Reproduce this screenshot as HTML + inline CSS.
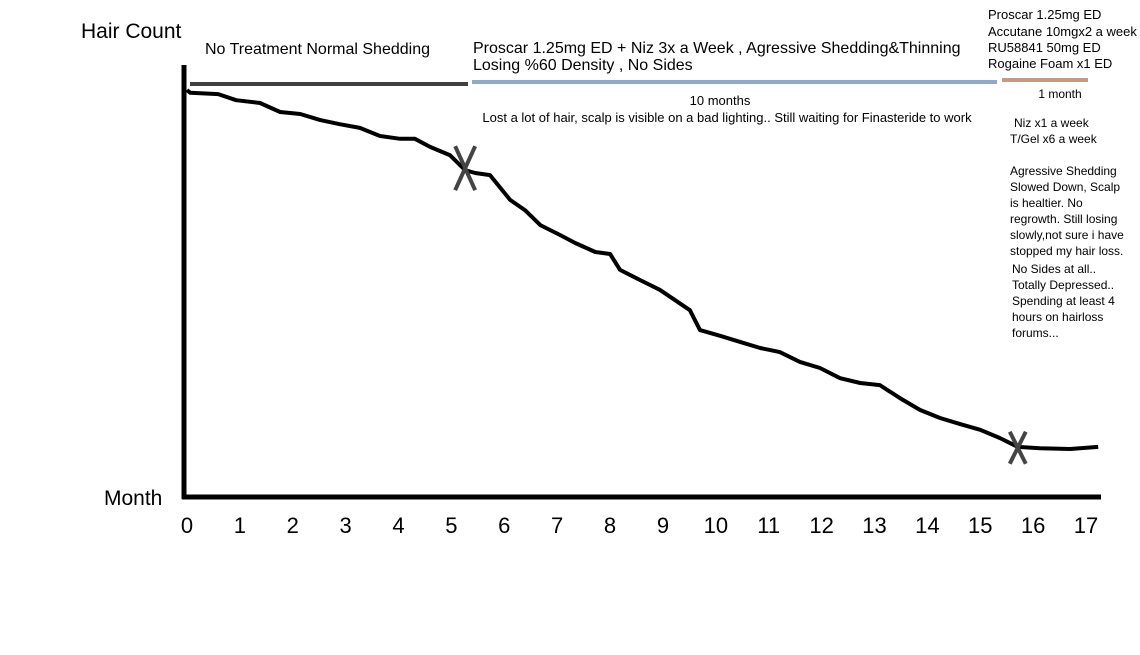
<!DOCTYPE html>
<html><head><meta charset="utf-8"><style>
body{margin:0;background:#fff;width:1140px;height:650px;overflow:hidden;font-family:"Liberation Sans",sans-serif}
</style></head><body>
<svg width="1140" height="650" font-family="Liberation Sans, sans-serif">
<g id="axes"></g>
<g id="marks"></g>
<g id="notes" fill="#000">
<text x="81" y="38" font-size="21">Hair Count</text>
<text x="104" y="505" font-size="21">Month</text>
<text x="205" y="54" font-size="16">No Treatment Normal Shedding</text>
<text x="473" y="53" font-size="16">Proscar 1.25mg ED + Niz 3x a Week , Agressive Shedding&amp;Thinning</text>
<text x="473" y="70" font-size="16">Losing %60 Density , No Sides</text>
<text x="720" y="105" font-size="13" text-anchor="middle">10 months</text>
<text x="727" y="122" font-size="13" text-anchor="middle">Lost a lot of hair, scalp is visible on a bad lighting.. Still waiting for Finasteride to work</text>
<g font-size="13">
<text x="988" y="19">Proscar 1.25mg ED</text>
<text x="988" y="36">Accutane 10mgx2 a week</text>
<text x="988" y="52">RU58841 50mg ED</text>
<text x="988" y="68">Rogaine Foam x1 ED</text>
</g>
<text x="1060" y="98" font-size="12" text-anchor="middle">1 month</text>
<g font-size="12">
<text x="1014" y="127">Niz x1 a week</text>
<text x="1010" y="143">T/Gel x6 a week</text>
<text x="1010" y="175">Agressive Shedding</text>
<text x="1010" y="191">Slowed Down, Scalp</text>
<text x="1010" y="207">is healtier. No</text>
<text x="1010" y="223">regrowth. Still losing</text>
<text x="1010" y="239">slowly,not sure i have</text>
<text x="1010" y="255">stopped my hair loss.</text>
<text x="1012" y="273">No Sides at all..</text>
<text x="1012" y="289">Totally Depressed..</text>
<text x="1012" y="305">Spending at least 4</text>
<text x="1012" y="321">hours on hairloss</text>
<text x="1012" y="337">forums...</text>
</g>
<line x1="190" y1="84" x2="468" y2="84" stroke="#404040" stroke-width="4"/>
<line x1="472" y1="82" x2="997" y2="82" stroke="#8eaacb" stroke-width="4"/>
<line x1="1002" y1="80" x2="1088" y2="80" stroke="#c49a80" stroke-width="4"/>
</g>
</svg>
<script>
const months=[0,0.06,0.59,0.93,1.38,1.76,2.14,2.52,2.89,3.27,3.65,4.03,4.31,4.6,4.97,5.26,5.45,5.73,6.11,6.39,6.68,7.05,7.34,7.72,8.0,8.19,8.57,8.94,9.51,9.7,10.08,10.46,10.84,11.21,11.59,11.97,12.35,12.73,13.1,13.48,13.86,14.24,14.62,15.0,15.37,15.71,16.13,16.7,17.23];
const hair=[100,99.3,99.0,97.5,96.8,94.6,94.1,92.6,91.6,90.7,88.7,88.0,88.0,86.0,84.0,80.3,79.6,79.1,73.0,70.5,66.8,64.4,62.4,60.2,59.7,55.8,53.3,50.9,45.9,41.0,39.6,38.1,36.6,35.6,33.2,31.7,29.2,28.0,27.5,24.3,21.4,19.4,17.9,16.5,14.5,12.3,12.0,11.8,12.3];
const tickLabels=["0","1","2","3","4","5","6","7","8","9","10","11","12","13","14","15","16","17"];
const markerMonths=[5.26,15.71];
const markerHair=[80.8,12.1];
const NS="http://www.w3.org/2000/svg";
const xs=m=>187+m*(1086-187)/17;
const ys=v=>497-v*4.07;
const axes=document.getElementById('axes'),marks=document.getElementById('marks');
function mk(t,a,p){const e=document.createElementNS(NS,t);for(const k in a)e.setAttribute(k,a[k]);p.appendChild(e);return e;}
const ya=mk('line',{x1:184,y1:65,x2:184,y2:499,stroke:'#000','stroke-width':5},axes);


const xa=mk('line',{x1:182,y1:497,x2:1101,y2:497,stroke:'#000','stroke-width':5},axes);


tickLabels.forEach((l,i)=>{const t=mk('text',{x:xs(i),y:533,'font-size':22,'text-anchor':'middle'},axes);t.textContent=l;

});
const d=months.map((m,i)=>(i?'L':'M')+xs(m).toFixed(1)+','+ys(hair[i]).toFixed(1)).join(' ');
const p=mk('path',{d:d,fill:'none',stroke:'#000','stroke-width':4,'stroke-linejoin':'round'},marks);


markerMonths.forEach((m,i)=>{const cx=xs(m),cy=ys(markerHair[i]);const s=i?16:22,w=i?8:10;
const g=mk('g',{stroke:'#444','stroke-width':4},marks);


mk('line',{x1:cx-w,y1:cy-s,x2:cx+w,y2:cy+s},g);mk('line',{x1:cx+w,y1:cy-s,x2:cx-w,y2:cy+s},g);});
</script>
</body></html>
